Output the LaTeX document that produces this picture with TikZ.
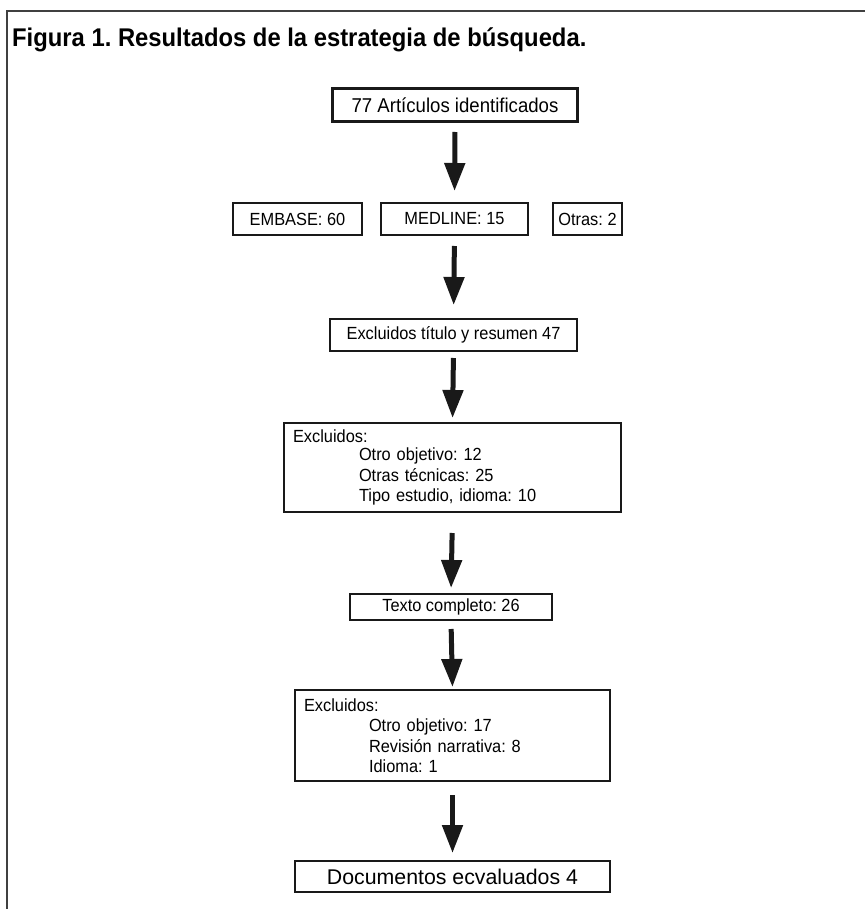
\documentclass[tikz,border=0pt]{standalone}
\usepackage{fontspec}
\setmainfont{Liberation Sans}[FakeStretch=0.93]
\newfontfamily\ancha{Liberation Sans}
\usetikzlibrary{arrows.meta}
\frenchspacing

\begin{document}
\begin{tikzpicture}[x=1pt, y=-1pt,
    caja/.style={draw=black!90, line width=2pt, inner sep=0pt, minimum height=32pt,
        font=\fontsize{17.6}{21}\selectfont},
    lista/.style={caja, align=left, inner xsep=9pt, font=\fontsize{17.6}{20.5}\selectfont},
    flecha/.style={line width=5pt, draw=black!90, -{Triangle[length=28pt, width=20pt]}}]

    \useasboundingbox (0,0) rectangle (865,909);

    % Marco
    \draw[black!75, line width=2pt] (7,909) -- (7,11) -- (865,11);

    % Titulo
    \node[anchor=base west, inner sep=0pt, font=\bfseries\fontsize{25.6}{30}\selectfont]
        (titulo) at (12,47) {Figura 1. Resultados de la estrategia de búsqueda.};

    % Cajas
    \node[caja, line width=3.3pt, minimum width=244.7pt, minimum height=32.7pt,
        font=\fontsize{20}{24}\selectfont] (art) at (455,105) {77 Artículos identificados};
    \node[caja, minimum width=129pt] (embase) at (297.5,219) {EMBASE: 60};
    \node[caja, minimum width=147pt] (medline) at (454.5,219) {MEDLINE: 15};
    \node[caja, minimum width=69pt] (otras) at (587.5,219) {Otras: 2};
    \node[caja, minimum width=247pt] (resumen) at (453.5,335) {Excluidos título y resumen 47};
    \node[lista, text width=319pt, minimum height=89pt] (excl1) at (452.5,467.5)
        {Excluidos:\\[-2.5pt]
         \hspace*{66pt}Otro objetivo: 12\\
         \hspace*{66pt}Otras técnicas: 25\\
         \hspace*{66pt}Tipo estudio, idioma: 10};
    \node[caja, minimum width=202pt, minimum height=26pt] (texto) at (451,607) {Texto completo: 26};
    \node[lista, text width=297pt, minimum height=91pt] (excl2) at (452.5,735.5)
        {Excluidos:\\
         \hspace*{65pt}Otro objetivo: 17\\
         \hspace*{65pt}Revisión narrativa: 8\\
         \hspace*{65pt}Idioma: 1};
    \node[caja, minimum width=315pt, minimum height=31pt, font=\ancha\fontsize{21.3}{25}\selectfont]
        (doc) at (452.5,876.5) {Documentos ecvaluados 4};

    % Flechas
    \draw[flecha, shorten <=9pt, shorten >=11pt] (art.south) -- (medline.north);
    \draw[flecha, shorten <=10pt, shorten >=13pt] (medline.south) -- (resumen.north);
    \draw[flecha, shorten <=6pt, shorten >=4pt] (resumen.south) -- (excl1.north);
    \draw[flecha, shorten <=20pt, shorten >=5pt] (excl1.south) -- (texto.north);
    \draw[flecha, shorten <=8pt, shorten >=2pt] (texto.south) -- (excl2.north);
    \draw[flecha, shorten <=13pt, shorten >=7pt] (excl2.south) -- (doc.north);
\end{tikzpicture}
\end{document}
